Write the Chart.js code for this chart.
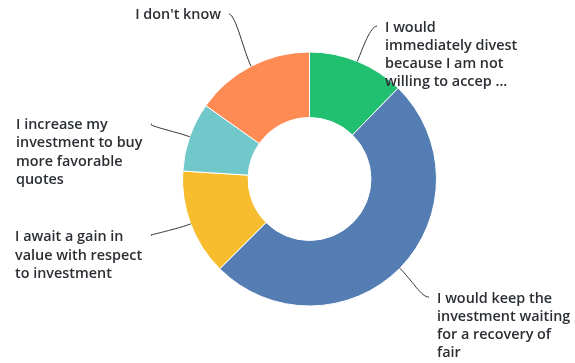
<!DOCTYPE html>
<html>
<head>
<meta charset="utf-8">
<script src="https://cdn.jsdelivr.net/npm/chart.js@4.4.1/dist/chart.umd.min.js"></script>
<style>
  html, body { margin: 0; padding: 0; background: #fff; }
  #wrap { width: 575px; height: 363px; }
</style>
</head>
<body>
<div id="wrap"><canvas id="answers" width="575" height="363"></canvas></div>
<script>
// answer shares (%)
const answers = [
    "I would immediately divest because I am not willing to accep ...",
    "I would keep the investment waiting for a recovery of fair",
    "I await a gain in value with respect to investment",
    "I increase my investment to buy more favorable quotes",
    "I don't know"
];
const shares = [12.3, 50.2, 13.5, 8.8, 15.2];
const sliceColors = ["#21bf70", "#537db3", "#f7bd2f", "#70c8cb", "#ff8b54"];
const labelLines = [
    ["I would", "immediately divest", "because I am not", "willing to accep ..."],
    ["I would keep the", "investment waiting", "for a recovery of", "fair"],
    ["I await a gain in", "value with respect", "to investment"],
    ["I increase my", "investment to buy", "more favorable", "quotes"],
    ["I don't know"]
];

// where each callout text sits and where its leader line ends
const callouts = [
    { x: 385, y: 28, step: 18, align: "left", ex: 377, ey: 26 },
    { x: 437, y: 299, step: 18, align: "left", ex: 429, ey: 297 },
    { x: 15, y: 237, step: 18.5, align: "left", ex: 152, ey: 235 },
    { x: 16, y: 125, step: 18.3, align: "left", ex: 152, ey: 124 },
    { x: 221, y: 15, step: 18, align: "right", ex: 229, ey: 14 }
];

const calloutPlugin = {
    id: 'callouts',
    afterDraw: function (chart) {
        const ctx = chart.ctx;
        const meta = chart.getDatasetMeta(0);
        ctx.save();
        meta.data.forEach(function (arc, i) {
            const c = callouts[i];
            const mid = (arc.startAngle + arc.endAngle) / 2;
            const dx = Math.cos(mid), dy = Math.sin(mid);
            const x0 = arc.x + dx * arc.outerRadius;
            const y0 = arc.y + dy * arc.outerRadius;
            const side = c.align === "right" ? 1 : -1;
            ctx.beginPath();
            ctx.moveTo(x0, y0);
            ctx.bezierCurveTo(x0 + dx * 16, y0 + dy * 16, c.ex + side * 7, c.ey + 1, c.ex, c.ey);
            ctx.strokeStyle = "#333";
            ctx.lineWidth = 1;
            ctx.stroke();

            ctx.fillStyle = "#2b2f33";
            ctx.font = "600 14.4px 'Open Sans'";
            ctx.textAlign = c.align;
            ctx.textBaseline = "middle";
            labelLines[i].forEach(function (line, k) {
                ctx.fillText(line, c.x, c.y + k * c.step);
            });
        });
        ctx.restore();
    }
};

new Chart(document.getElementById('answers'), {
    type: 'doughnut',
    data: {
        labels: answers,
        datasets: [{
            data: shares,
            backgroundColor: sliceColors,
            borderColor: '#fff',
            borderWidth: 1
        }]
    },
    options: {
        responsive: false,
        animation: false,
        cutout: '48.4%',
        layout: { padding: { top: 51, bottom: 56, left: 182, right: 138 } },
        plugins: {
            legend: { display: false },
            tooltip: { enabled: false }
        }
    },
    plugins: [calloutPlugin]
});
</script>
</body>
</html>
